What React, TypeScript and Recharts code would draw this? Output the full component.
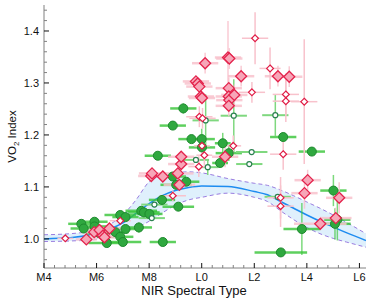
import React from 'react';
import { ComposedChart, Scatter, Line, Area, XAxis, YAxis, ErrorBar } from 'recharts';

// spectral type: M4 = 4 ... M9 = 9, L0 = 10 ... L6 = 16
const typeTicks = [4, 6, 8, 10, 12, 14, 16];
const typeLabels = ['M4', 'M6', 'M8', 'L0', 'L2', 'L4', 'L6'];
const indexTicks = [1.0, 1.1, 1.2, 1.3, 1.4];
const indexLabels = ['1.0', '1.1', '1.2', '1.3', '1.4'];

// polynomial fit and its scatter band
const fitType = [4, 5, 6, 6.5, 7, 7.5, 8, 8.5, 9, 9.5, 10, 11, 12, 12.5, 13, 13.5, 14, 14.5, 15, 15.5, 16.25];
const fitMid = [1.0, 1.002, 1.011, 1.019, 1.031, 1.049, 1.068, 1.083, 1.093, 1.099, 1.102, 1.101, 1.091, 1.085, 1.072, 1.059, 1.046, 1.034, 1.023, 1.012, 0.997];
const fitLow = [0.995, 0.996, 0.999, 1.006, 1.014, 1.021, 1.034, 1.05, 1.065, 1.075, 1.08, 1.088, 1.08, 1.072, 1.054, 1.037, 1.022, 1.01, 1.001, 0.994, 0.984];
const fitHigh = [1.008, 1.01, 1.018, 1.028, 1.046, 1.075, 1.11, 1.122, 1.127, 1.129, 1.127, 1.116, 1.107, 1.103, 1.094, 1.083, 1.071, 1.059, 1.046, 1.032, 1.01];

// [type, VO2 index, type error, index error]
const fieldDwarfs = [
  [5.42, 1.029, 0.5, 0.005], [5.51, 1.02, 0.5, 0.005], [5.92, 1.033, 0.5, 0.005],
  [5.92, 1.024, 0.5, 0.005], [6.11, 1.011, 0.5, 0.005], [6.39, 0.992, 0.7, 0.005],
  [6.72, 1.013, 0.5, 0.005], [6.9, 1.046, 0.6, 0.005], [6.9, 1.004, 0.5, 0.005],
  [7.0, 0.994, 0.7, 0.005], [7.1, 1.042, 0.5, 0.005], [7.1, 1.019, 0.6, 0.005],
  [7.61, 1.022, 0.5, 0.01], [7.7, 1.054, 0.6, 0.005], [7.8, 1.051, 0.6, 0.005],
  [8.01, 1.048, 0.5, 0.005], [8.33, 1.16, 0.5, 0.005], [8.49, 1.075, 0.5, 0.005],
  [8.52, 0.994, 0.5, 0.005], [8.9, 1.218, 0.5, 0.005], [8.9, 1.12, 0.5, 0.005],
  [9.03, 1.104, 0.6, 0.005], [9.11, 1.062, 0.6, 0.005], [9.41, 1.11, 0.5, 0.005],
  [9.3, 1.251, 0.5, 0.01], [9.61, 1.192, 0.5, 0.005], [10.0, 1.192, 0.5, 0.02],
  [10.01, 1.176, 0.5, 0.005], [10.8, 1.184, 0.3, 0.02], [10.7, 1.146, 0.3, 0.005],
  [11.03, 1.165, 0.5, 0.015], [13.1, 1.196, 0.5, 0.005], [14.19, 1.168, 0.5, 0.005],
  [13.81, 1.019, 0.7, 0.05], [13.01, 0.974, 1.0, 0.005], [15.01, 1.093, 0.5, 0.03],
  [15.16, 1.037, 0.5, 0.04], [15.07, 1.029, 0.6, 0.03],
];
const fieldOpen = [
  [10.15, 1.228, 0.5, 0.05], [11.22, 1.237, 0.5, 0.07], [9.78, 1.152, 0.5, 0.005],
  [10.23, 1.138, 0.4, 0.015], [11.9, 1.167, 0.6, 0.005], [11.81, 1.144, 0.5, 0.005],
  [12.8, 1.238, 0.5, 0.04], [8.2, 1.066, 0.5, 0.005], [8.1, 1.04, 0.5, 0.005],
  [12.89, 1.081, 0.5, 0.005],
];
const youngDwarfs = [
  [5.61, 0.999, 0.4, 0.005], [5.91, 1.013, 0.5, 0.006], [6.11, 1.017, 0.5, 0.006],
  [6.24, 1.006, 0.5, 0.006], [6.3, 1.003, 0.5, 0.006], [6.49, 1.02, 0.5, 0.006],
  [8.08, 1.121, 0.5, 0.01], [8.11, 1.126, 0.5, 0.01], [8.52, 1.12, 0.5, 0.01],
  [9.09, 1.126, 0.6, 0.01], [9.15, 1.104, 0.6, 0.01], [9.22, 1.144, 0.5, 0.01],
  [9.22, 1.158, 0.5, 0.01], [9.78, 1.303, 0.5, 0.01], [9.85, 1.299, 0.5, 0.01],
  [9.91, 1.293, 0.5, 0.01], [9.97, 1.274, 0.5, 0.01], [10.01, 1.271, 0.5, 0.01],
  [10.13, 1.338, 0.5, 0.02], [11.0, 1.349, 0.5, 0.07], [11.05, 1.347, 0.5, 0.02],
  [11.03, 1.29, 0.5, 0.02], [11.03, 1.274, 0.5, 0.02], [11.05, 1.267, 0.5, 0.02],
  [11.03, 1.256, 0.5, 0.02], [11.24, 1.277, 0.5, 0.02], [11.5, 1.313, 0.5, 0.02],
  [12.9, 1.313, 0.5, 0.02], [13.33, 1.312, 0.5, 0.02], [10.89, 1.158, 0.5, 0.02],
  [14.03, 1.113, 0.5, 0.02], [13.91, 1.088, 0.5, 0.03], [14.51, 1.029, 1.0, 0.01],
  [15.1, 1.04, 0.6, 0.02], [15.23, 1.079, 0.5, 0.03],
];
const youngOpen = [
  [4.81, 1.001, 0.3, 0.003], [6.9, 1.035, 0.4, 0.005], [8.9, 1.083, 0.5, 0.01],
  [9.91, 1.235, 0.5, 0.02], [10.03, 1.232, 0.5, 0.02], [10.01, 1.179, 0.3, 0.02],
  [10.1, 1.161, 0.3, 0.02], [9.89, 1.139, 0.4, 0.02], [11.2, 1.179, 0.3, 0.02],
  [11.91, 1.282, 0.5, 0.02], [12.03, 1.386, 0.5, 0.05], [12.6, 1.328, 0.4, 0.04],
  [13.2, 1.278, 0.5, 0.04], [13.2, 1.265, 0.5, 0.04], [13.9, 1.264, 0.5, 0.12],
  [13.1, 1.163, 0.5, 0.03], [13.0, 1.079, 0.5, 0.04], [13.0, 1.063, 0.5, 0.04],
];

const toPoints = (rows: number[][]) => rows.map(([x, y, ex, ey]) => ({ x, y, ex, ey }));
const fitTable = fitType.map((x, i) => ({ x, mid: fitMid[i], band: [fitLow[i], fitHigh[i]], lo: fitLow[i], hi: fitHigh[i] }));

const xTicks = Array.from({ length: 31 }, (_, k) => Math.round((4 + k * 0.4) * 10) / 10);
const yTicks = Array.from({ length: 25 }, (_, k) => Math.round((0.96 + k * 0.02) * 100) / 100);

const FONT = '"Liberation Sans", Arial, Helvetica, sans-serif';
const FRAME = '#808080';

function makeXTick(side: 'bottom' | 'top') {
  return (p: any) => {
    const v = p.payload.value;
    const i = typeTicks.indexOf(v);
    const len = i >= 0 ? 5 : 3;
    const dir = side === 'bottom' ? -1 : 1;
    return (
      <g>
        <line x1={p.x} y1={p.y} x2={p.x} y2={p.y + dir * len} stroke={i >= 0 ? '#111' : FRAME} strokeWidth={1} />
        {side === 'bottom' && i >= 0 && (
          <text x={p.x} y={p.y + 13} textAnchor="middle" fontSize={11} fontFamily={FONT} fill="#111">
            {typeLabels[i]}
          </text>
        )}
      </g>
    );
  };
}

function makeYTick(side: 'left' | 'right') {
  return (p: any) => {
    const v = p.payload.value;
    const i = indexTicks.indexOf(v);
    const len = i >= 0 ? 5 : 3;
    const dir = side === 'left' ? 1 : -1;
    return (
      <g>
        <line x1={p.x} y1={p.y} x2={p.x + dir * len} y2={p.y} stroke={i >= 0 ? '#111' : FRAME} strokeWidth={1} />
        {side === 'left' && i >= 0 && (
          <text x={p.x - 5} y={p.y + 4} textAnchor="end" fontSize={11} fontFamily={FONT} fill="#111">
            {indexLabels[i]}
          </text>
        )}
      </g>
    );
  };
}

const FilledDot = (p: any) => <circle cx={p.cx} cy={p.cy} r={4.5} fill="#2fa83f" stroke="#1e8a2e" strokeWidth={1} />;
const OpenDot = (p: any) => <circle cx={p.cx} cy={p.cy} r={2.5} fill="#fff" stroke="#2b8050" strokeWidth={1.2} />;
const BigDiamond = (p: any) => {
  const s = 5.5;
  return <path d={`M${p.cx},${p.cy - s}L${p.cx + s},${p.cy}L${p.cx},${p.cy + s}L${p.cx - s},${p.cy}Z`} fill="#f7a6b8" stroke="#e3234c" strokeWidth={1.3} />;
};
const SmallDiamond = (p: any) => {
  const s = 3.4;
  return <path d={`M${p.cx},${p.cy - s}L${p.cx + s},${p.cy}L${p.cx},${p.cy + s}L${p.cx - s},${p.cy}Z`} fill="#fff" stroke="#e01b45" strokeWidth={1.2} />;
};

const YLabel = (p: any) => {
  const vb = p.viewBox;
  const cx = 15.5;
  const cy = vb.y + vb.height / 2;
  return (
    <text x={cx} y={cy} transform={`rotate(-90 ${cx} ${cy})`} textAnchor="middle" fontSize={11.5} fontFamily={FONT} fill="#111">
      VO<tspan dy={3} fontSize={8}>2</tspan>
      <tspan dy={-3}> Index</tspan>
    </text>
  );
};

export default function App() {
  return (
    <div style={{ position: 'absolute', left: 0, top: 0, background: '#fff' }}>
      <ComposedChart width={374} height={299} data={fitTable} margin={{ top: 5, right: 8, bottom: 0, left: 0 }}>
        <XAxis
          dataKey="x"
          type="number"
          domain={[4, 16.25]}
          allowDataOverflow
          ticks={xTicks}
          interval={0}
          height={31}
          tickSize={0}
          tickMargin={0}
          tickLine={false}
          axisLine={{ stroke: FRAME }}
          tick={makeXTick('bottom')}
        />
        <XAxis
          xAxisId="top"
          orientation="top"
          type="number"
          domain={[4, 16.25]}
          allowDataOverflow
          ticks={xTicks}
          interval={0}
          height={0}
          tickSize={0}
          tickMargin={0}
          tickLine={false}
          axisLine={{ stroke: FRAME }}
          tick={makeXTick('top')}
        />
        <YAxis
          type="number"
          domain={[0.944, 1.45]}
          allowDataOverflow
          ticks={yTicks}
          interval={0}
          width={44}
          tickSize={0}
          tickMargin={0}
          tickLine={false}
          axisLine={{ stroke: FRAME }}
          tick={makeYTick('left')}
          label={{ content: YLabel }}
        />
        <YAxis
          yAxisId="right"
          orientation="right"
          type="number"
          domain={[0.944, 1.45]}
          allowDataOverflow
          ticks={yTicks}
          interval={0}
          width={0}
          tickSize={0}
          tickMargin={0}
          tickLine={false}
          axisLine={{ stroke: FRAME }}
          tick={makeYTick('right')}
        />
        <Area dataKey="band" type="monotone" fill="#dbeefc" fillOpacity={0.9} stroke="none" isAnimationActive={false} />
        <Line dataKey="lo" type="monotone" stroke="#9a7de0" strokeWidth={1} strokeDasharray="4 3" dot={false} isAnimationActive={false} />
        <Line dataKey="hi" type="monotone" stroke="#9a7de0" strokeWidth={1} strokeDasharray="4 3" dot={false} isAnimationActive={false} />
        <Line dataKey="mid" type="monotone" stroke="#1e8cf0" strokeWidth={1.5} dot={false} isAnimationActive={false} />

        <Scatter data={toPoints(fieldDwarfs)} dataKey="y" shape={FilledDot} isAnimationActive={false}>
          <ErrorBar dataKey="ex" direction="x" width={0} stroke="#36c436" strokeOpacity={0.8} strokeWidth={2.5} />
          <ErrorBar dataKey="ey" direction="y" width={0} stroke="#36c436" strokeOpacity={0.65} strokeWidth={1.5} />
        </Scatter>
        <Scatter data={toPoints(fieldOpen)} dataKey="y" shape={OpenDot} isAnimationActive={false}>
          <ErrorBar dataKey="ex" direction="x" width={0} stroke="#7fd87f" strokeWidth={2} />
          <ErrorBar dataKey="ey" direction="y" width={0} stroke="#7fd87f" strokeWidth={1.5} />
        </Scatter>
        <Scatter data={toPoints(youngDwarfs)} dataKey="y" shape={BigDiamond} isAnimationActive={false}>
          <ErrorBar dataKey="ex" direction="x" width={0} stroke="#f8c2cc" strokeOpacity={0.85} strokeWidth={2.5} />
          <ErrorBar dataKey="ey" direction="y" width={0} stroke="#f8c2cc" strokeOpacity={0.85} strokeWidth={1.5} />
        </Scatter>
        <Scatter data={toPoints(youngOpen)} dataKey="y" shape={SmallDiamond} isAnimationActive={false}>
          <ErrorBar dataKey="ex" direction="x" width={0} stroke="#f8c2cc" strokeWidth={1.5} />
          <ErrorBar dataKey="ey" direction="y" width={0} stroke="#f8c2cc" strokeWidth={1.5} />
        </Scatter>

        <text x={194} y={295} textAnchor="middle" fontSize={13} fontFamily={FONT} fill="#111">
          NIR Spectral Type
        </text>
      </ComposedChart>
    </div>
  );
}
